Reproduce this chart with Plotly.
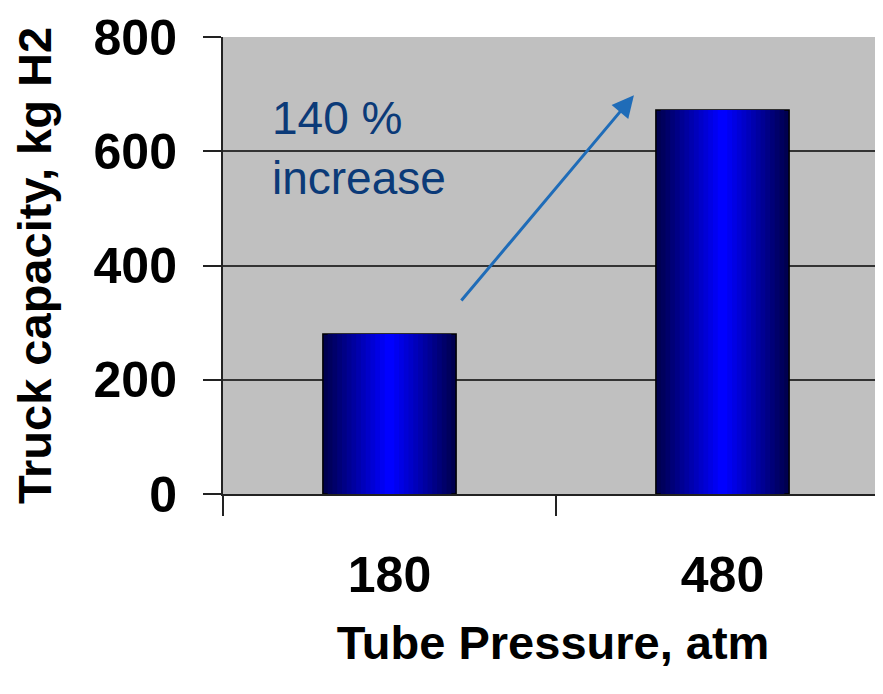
import plotly.graph_objects as go

categories = ["180", "480"]
capacity = [280, 672]
y_ticks = [0, 200, 400, 600, 800]
y_tick_labels = ["0", "200", "400", "600", "800"]

fig = go.Figure()

# Horizontal gradient imitation: nested bars, dark at edges, bright in the centre
n_layers = 14
edge_rgb = (0, 0, 80)
centre_rgb = (0, 0, 255)
full_width = 0.4
for k in range(n_layers):
    t = k / (n_layers - 1)
    r = int(edge_rgb[0] + (centre_rgb[0] - edge_rgb[0]) * t)
    g = int(edge_rgb[1] + (centre_rgb[1] - edge_rgb[1]) * t)
    b = int(edge_rgb[2] + (centre_rgb[2] - edge_rgb[2]) * t)
    w = full_width * (1 - k / n_layers)
    fig.add_trace(go.Bar(
        x=categories, y=capacity, width=w,
        marker=dict(color=f"rgb({r},{g},{b})",
                    line=dict(color="black", width=1.5 if k == 0 else 0)),
        hoverinfo="skip", showlegend=False,
    ))

# The page body has an 8px margin, so the figure is drawn 8px in from the window edge
fig.update_layout(
    width=875, height=686,
    margin=dict(l=215, r=0, t=29, b=200),
    paper_bgcolor="white",
    plot_bgcolor="#c0c0c0",
    barmode="overlay",
    showlegend=False,
    font=dict(family="Liberation Sans, Arial, sans-serif", color="black"),
)

fig.update_xaxes(
    type="category",
    range=[-0.5, 1.482],
    automargin=False,
    showgrid=False,
    showline=True, linecolor="#222", linewidth=2,
    ticks="outside", tickson="boundaries", ticklen=20, tickwidth=2, tickcolor="#222",
    tickfont=dict(size=50, family="Liberation Sans, Arial, sans-serif", weight="bold"),
    ticklabelstandoff=36,
    title=dict(text="<b>Tube Pressure, atm</b>", font=dict(size=47), standoff=24),
)

fig.update_yaxes(
    range=[0, 800],
    automargin=False,
    tickvals=y_ticks, ticktext=[f"<b>{t}</b>" for t in y_tick_labels],
    showgrid=True, gridcolor="#333", gridwidth=2,
    showline=True, linecolor="#222", linewidth=2,
    ticks="outside", ticklen=18, tickwidth=2, tickcolor="#222",
    tickfont=dict(size=50),
    ticklabelstandoff=16,
    zeroline=False,
    title=dict(text="<b>Truck capacity, kg H2</b>", font=dict(size=47), standoff=31),
)

# Arrow
fig.add_annotation(
    x=0.734, y=698, ax=0.212, ay=336,
    xref="x", yref="y", axref="x", ayref="y",
    text="", showarrow=True,
    arrowhead=2, arrowsize=1.45, arrowwidth=3, arrowcolor="#1f6cb8",
)

# Label
fig.add_annotation(
    x=-0.36, y=707, xref="x", yref="y",
    xanchor="left", yanchor="top",
    text="140 %<br>increase", showarrow=False, align="left",
    font=dict(size=46, color="#0b3a78", family="Liberation Sans, Arial, sans-serif"),
)

fig.write_html("out.html")
